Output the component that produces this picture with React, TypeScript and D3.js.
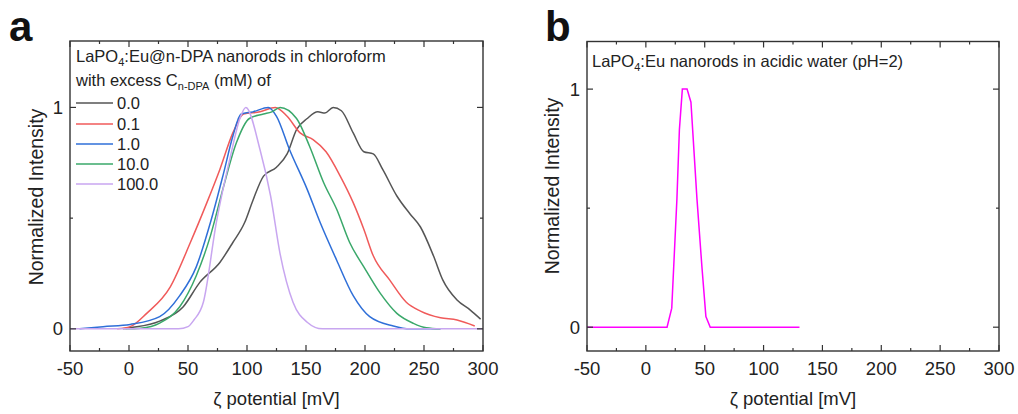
import React from 'react'
import * as d3 from 'd3'

type Pt = [number, number]

// panel a: zeta potential (mV) vs normalized intensity, one array per excess concentration
const conc00: Pt[] = [[-5, 0], [1, 0.005], [26, 0.035], [46, 0.1], [60, 0.21], [77, 0.3], [88, 0.39], [98, 0.48], [105, 0.58], [114, 0.69], [125, 0.73], [134, 0.79], [142, 0.9], [151, 0.95], [160, 0.98], [166, 0.975], [173, 1.0], [180, 0.985], [190, 0.885], [199, 0.8], [207, 0.79], [215, 0.72], [227, 0.6], [238, 0.52], [247, 0.46], [258, 0.33], [266, 0.22], [278, 0.13], [289, 0.086], [298, 0.044]]
const conc01: Pt[] = [[-10, 0], [1, 0.01], [15, 0.07], [35, 0.19], [52, 0.39], [66, 0.57], [77, 0.72], [88, 0.885], [97, 0.97], [111, 0.98], [124, 1.0], [134, 0.96], [145, 0.885], [156, 0.855], [167, 0.8], [179, 0.69], [190, 0.57], [199, 0.45], [207, 0.33], [221, 0.22], [235, 0.12], [247, 0.08], [264, 0.05], [278, 0.04], [293, 0.013]]
const conc1: Pt[] = [[-42, 0], [-22, 0.01], [1, 0.02], [26, 0.055], [43, 0.15], [57, 0.28], [69, 0.48], [80, 0.7], [88, 0.87], [95, 0.97], [105, 0.98], [118, 1.0], [125, 0.96], [136, 0.81], [151, 0.63], [162, 0.48], [176, 0.31], [190, 0.15], [204, 0.055], [224, 0.013], [238, 0], [264, 0]]
const conc10: Pt[] = [[-3, 0], [10, 0.003], [26, 0.026], [43, 0.1], [57, 0.24], [69, 0.42], [80, 0.64], [91, 0.84], [102, 0.95], [114, 0.97], [121, 0.98], [128, 1.0], [142, 0.95], [153, 0.825], [165, 0.66], [176, 0.54], [187, 0.39], [199, 0.28], [213, 0.16], [227, 0.07], [241, 0.025], [252, 0.005], [264, 0]]
const conc100: Pt[] = [[-50, 0], [42, 0], [50, 0.01], [55, 0.04], [63, 0.12], [74, 0.48], [86, 0.78], [94, 0.95], [99, 1.0], [111, 0.81], [120, 0.6], [128, 0.34], [139, 0.12], [151, 0.03], [164, 0], [300, 0]]

const legendLabels = ['0.0', '0.1', '1.0', '10.0', '100.0']
const seriesA = [conc00, conc01, conc1, conc10, conc100]
const colorsA = ['#555555', '#f05a5a', '#2f6fd8', '#3aa86a', '#c8a6f0']

// panel b: acidic water
const acidic: Pt[] = [[-50, 0], [18, 0], [22, 0.08], [26.4, 0.54], [28.5, 0.83], [31, 1.0], [35, 1.0], [38.3, 0.945], [43.4, 0.54], [47.6, 0.255], [51, 0.045], [54.7, 0], [130.5, 0]]

const xTicks = [-50, 0, 50, 100, 150, 200, 250, 300]
const xMinor = [-25, 25, 75, 125, 175, 225, 275]
const yTicks = [0, 1]
const yMinor = [0.5]

const FONT = '"Liberation Sans", Arial, sans-serif'
const INK = '#222'

function Frame({ x, y }: { x: d3.ScaleLinear<number, number>; y: d3.ScaleLinear<number, number> }) {
  const [x0, x1] = x.range()
  const [y0, y1] = y.range()
  const items: React.ReactNode[] = []
  xTicks.forEach(t => {
    items.push(<line key={'xb' + t} x1={x(t)} x2={x(t)} y1={y0} y2={y0 - 6} />)
    items.push(<line key={'xt' + t} x1={x(t)} x2={x(t)} y1={y1} y2={y1 + 6} />)
  })
  xMinor.forEach(t => {
    items.push(<line key={'mb' + t} x1={x(t)} x2={x(t)} y1={y0} y2={y0 - 3} />)
    items.push(<line key={'mt' + t} x1={x(t)} x2={x(t)} y1={y1} y2={y1 + 3} />)
  })
  yTicks.forEach(t => {
    items.push(<line key={'yl' + t} x1={x0} x2={x0 + 6} y1={y(t)} y2={y(t)} />)
    items.push(<line key={'yr' + t} x1={x1} x2={x1 - 6} y1={y(t)} y2={y(t)} />)
  })
  yMinor.forEach(t => {
    items.push(<line key={'nl' + t} x1={x0} x2={x0 + 3} y1={y(t)} y2={y(t)} />)
    items.push(<line key={'nr' + t} x1={x1} x2={x1 - 3} y1={y(t)} y2={y(t)} />)
  })
  return (
    <g>
      <g stroke="#333" strokeWidth={1.2}>{items}</g>
      <rect x={x0} y={y1} width={x1 - x0} height={y0 - y1} fill="none" stroke="#333" strokeWidth={1.4} />
      <g fontFamily={FONT} fontSize={18.5} fill={INK}>
        {xTicks.map(t => (
          <text key={t} x={x(t)} y={375} textAnchor="middle">{t}</text>
        ))}
        {yTicks.map(t => (
          <text key={t} x={x0 - 7} y={y(t) + 6.5} textAnchor="end">{t}</text>
        ))}
        <text x={(x0 + x1) / 2} y={405} textAnchor="middle">ζ potential [mV]</text>
      </g>
    </g>
  )
}

export default function App() {
  const xa = d3.scaleLinear().domain([-50, 300]).range([70, 483])
  const ya = d3.scaleLinear().domain([-0.1, 1.3]).range([351, 41])
  const xb = d3.scaleLinear().domain([-50, 300]).range([587, 999])
  const yb = d3.scaleLinear().domain([-0.1, 1.2]).range([351, 41.5])

  const lineA = d3.line<Pt>().x(d => xa(d[0])).y(d => ya(d[1])).curve(d3.curveMonotoneX)
  const lineB = d3.line<Pt>().x(d => xb(d[0])).y(d => yb(d[1]))

  const legendY = [103, 124, 144, 164, 184]

  return (
    <svg width={1018} height={414} style={{ position: 'absolute', left: 0, top: 0, background: '#fff' }}>
      {/* panel a */}
      <text x={9} y={41} fontFamily={FONT} fontSize={42} fontWeight="bold" fill="#111">a</text>
      <text transform="translate(43,197) rotate(-90)" textAnchor="middle" fontFamily={FONT} fontSize={19.5} fill={INK}>Normalized Intensity</text>
      {seriesA.map((s, i) => (
        <path key={i} d={lineA(s) ?? ''} fill="none" stroke={colorsA[i]} strokeWidth={1.5} />
      ))}
      <Frame x={xa} y={ya} />
      <g fontFamily={FONT} fontSize={16.5} fill={INK}>
        <text x={76} y={62}>LaPO<tspan fontSize={11} dy={4}>4</tspan><tspan dy={-4}>:Eu@n-DPA nanorods in chloroform</tspan></text>
        <text x={76} y={86}>with excess C<tspan fontSize={11} dy={4}>n-DPA</tspan><tspan dy={-4}> (mM) of</tspan></text>
        {legendLabels.map((l, i) => (
          <g key={l}>
            <line x1={76} x2={113} y1={legendY[i]} y2={legendY[i]} stroke={colorsA[i]} strokeWidth={1.5} />
            <text x={117} y={legendY[i] + 6}>{l}</text>
          </g>
        ))}
      </g>

      {/* panel b */}
      <text x={545} y={41} fontFamily={FONT} fontSize={42} fontWeight="bold" fill="#111">b</text>
      <text transform="translate(559,186) rotate(-90)" textAnchor="middle" fontFamily={FONT} fontSize={19.5} fill={INK}>Normalized Intensity</text>
      <path d={lineB(acidic) ?? ''} fill="none" stroke="#ff00ff" strokeWidth={1.5} />
      <Frame x={xb} y={yb} />
      <text x={592} y={67} fontFamily={FONT} fontSize={16.5} fill={INK}>LaPO<tspan fontSize={11} dy={4}>4</tspan><tspan dy={-4}>:Eu nanorods in acidic water (pH=2)</tspan></text>
    </svg>
  )
}
